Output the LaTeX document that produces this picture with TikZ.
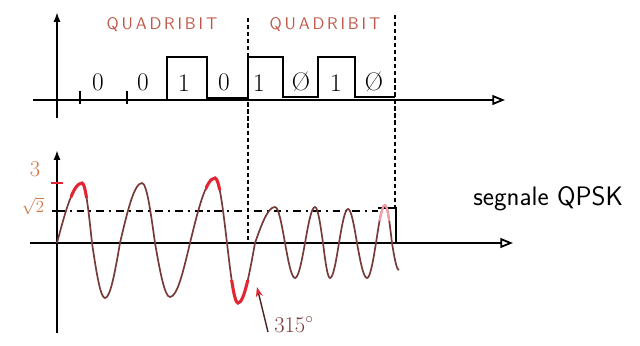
\documentclass[tikz,border=0pt]{standalone}
\usepackage{tikz}
\usetikzlibrary{arrows.meta}

\definecolor{wavebrown}{RGB}{118,58,56}
\definecolor{redmark}{RGB}{226,38,52}
\definecolor{quadcol}{RGB}{192,86,70}
\definecolor{levelcol}{RGB}{204,118,70}

\begin{document}
\begin{tikzpicture}[x=0.025cm, y=-0.025cm,
  haxis/.style={line width=1.3pt, -{Triangle[open, length=9pt, width=7pt]}},
  vaxis/.style={line width=1.3pt, -{Latex[length=7pt, width=5pt]}},
  sig/.style={line width=1.4pt, line join=miter},
  bit/.style={font=\fontsize{18}{18}\selectfont, inner sep=0pt},
  quad/.style={font=\fontsize{12}{12}\selectfont\sffamily, text=quadcol, inner sep=0pt},
  wave/.style={line width=1.2pt, wavebrown},
  hilite/.style={line width=2.2pt, redmark},
  sepline/.style={line width=0.8pt, dash pattern=on 3pt off 2pt},
  levelline/.style={line width=1pt, dash pattern=on 5.5pt off 3.5pt on 1.5pt off 3.5pt},
  lvl/.style={text=levelcol, inner sep=0pt},
]
\useasboundingbox (0,0) rectangle (640,345);

%% ---- Rows (pixel grid, y downwards)
\def\rBits{100}  % digital axis
\def\rHi{57}     % bit high level
\def\rWave{243}  % QPSK axis
\def\rLev{211}   % sqrt2 level

%% ---- QPSK waveform, quarter waves between crossings and extremes
\def\wavepath{(57,243) sin (82,183) cos (92,243) sin (105,298) cos (120,243)
  sin (142,183) cos (155,243) sin (170,297) cos (190,243) sin (215,178)
  cos (227,243) sin (238,303) cos (255,243) sin (275,207) cos (285,243)
  sin (295,278) cos (305,243) sin (315,207) cos (323,243) sin (330,278)
  cos (339,243) sin (348,209) cos (357,243) sin (367,278) cos (376,243)
  sin (385,205) cos (392,243) sin (399,270)}

%% ======== TOP — bit stream ========
\draw[vaxis] (57,118) -- (57,12);
\draw[haxis] (33,\rBits) -- (505,\rBits);
\draw[line width=1pt] (80,91) -- (80,104) (127,91) -- (127,104);

\draw[sig] (57,\rBits) -- (167,\rBits) -- (167,\rHi) -- (207,\rHi) -- (207,98)
  -- (248,98) -- (248,\rHi) -- (283,\rHi) -- (283,97) -- (318,97)
  -- (318,\rHi) -- (355,\rHi) -- (355,97) -- (395,97);

\node[bit] (b1) at (98,82)  {0};
\node[bit] (b2) at (143,82) {0};
\node[bit] (b3) at (184,83) {1};
\node[bit] (b4) at (224,82) {0};
\node[bit] (b5) at (259,83) {1};
\node[bit] (b6) at (301,82) {\O};
\node[bit] (b7) at (336,83) {1};
\node[bit] (b8) at (374,82) {\O};

\node[quad] (q1) at (162,25) {Q\,U\,A\,D\,R\,I\,B\,I\,T};
\node[quad] (q2) at (325,25) {Q\,U\,A\,D\,R\,I\,B\,I\,T};

% quadribit boundaries
\draw[sepline] (248,18) -- (248,\rWave);
\draw[sepline] (395,15) -- (395,208);

%% ======== BOTTOM — QPSK signal ========
\draw[vaxis] (57,333) -- (57,150);
\draw[haxis] (30,\rWave) -- (513,\rWave);

\draw[levelline] (57,\rLev) -- (378,\rLev);
\draw[line width=1pt] (378,208) -- (396,208) -- (396,\rWave);
\draw[redmark, line width=1.2pt] (51,183) -- (63,183);
\draw[line width=1pt] (52,\rLev) -- (62,\rLev);

\node[lvl, font=\fontsize{16}{16}\selectfont] (l3) at (35,169) {3};
\node[lvl, font=\fontsize{12}{12}\selectfont] (l2) at (33,206) {$\sqrt{2}$};

\draw[wave] \wavepath;
\begin{scope}
  \clip (70,178) rectangle (96,198) (205,172) rectangle (224,190)
        (228,280) rectangle (252,310);
  \draw[hilite] \wavepath;
\end{scope}
\begin{scope}
  \clip (377,200) rectangle (392,220);
  \draw[hilite, redmark!45, line width=1.6pt] \wavepath;
\end{scope}

\node[font=\fontsize{19}{19}\selectfont\sffamily, anchor=base west, inner sep=0pt]
  (qpsk) at (473,205) {segnale QPSK};

\node[font=\fontsize{16}{16}\selectfont, text=wavebrown, anchor=base west, inner sep=0pt]
  (deg) at (274,332) {315$^\circ$};
\coordinate (tail) at (268,332);
\coordinate (phase) at (257,287);
\draw[line width=1pt, wavebrown!60!black,
  -{Stealth[length=7pt, width=5pt, color=redmark]}] (tail) -- (phase);

\end{tikzpicture}
\end{document}
